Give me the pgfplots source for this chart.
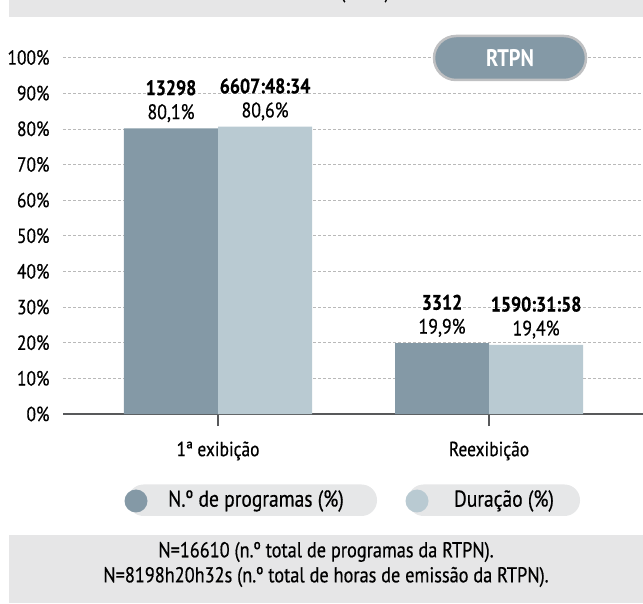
\documentclass[border=0pt]{standalone}
\usepackage{fontspec}
\setmainfont{PT Sans}[FakeStretch=0.85]
\newfontfamily\medfont{PT Sans}[FakeStretch=0.85,FakeBold=0.5]
\usepackage{pgfplots}
\pgfplotsset{compat=1.18}
\definecolor{darkbar}{HTML}{8499A6}
\definecolor{lightbar}{HTML}{B9CAD2}
\definecolor{band}{HTML}{E6E6E7}
\definecolor{pill}{HTML}{E6E7E8}
\definecolor{axisgray}{HTML}{58595B}
\definecolor{textgray}{HTML}{231F20}
\definecolor{boxborder}{HTML}{BFC0C2}
\begin{document}
\begin{tikzpicture}[x=1pt,y=1pt,font=\color{textgray}]
\useasboundingbox (0,0) rectangle (643,603);
% top band
\fill[band] (9,586) rectangle (643,603);
\begin{scope}
\clip (9,586) rectangle (643,603);
\node[font=\fontsize{20}{24}\selectfont\medfont, anchor=base] at (365,605) {(RTPN)};
\end{scope}
% bottom band
\fill[band] (9,0) rectangle (643,68);
\node[font=\fontsize{21.5}{25}\selectfont\medfont] at (326,51) {N=16610 (n.º total de programas da RTPN).};
\node[font=\fontsize{21.5}{25}\selectfont\medfont] at (326,26) {N=8198h20h32s (n.º total de horas de emissão da RTPN).};

\begin{axis}[
  at={(63pt,189pt)}, anchor=south west,
  scale only axis, width=580pt, height=356.5pt,
  xmin=-0.572, xmax=1.568, ymin=0, ymax=100,
  clip=false,
  axis x line=bottom, axis y line=left,
  x axis line style={-, draw=axisgray, line width=1.2pt},
  y axis line style={draw=none},
  xtick={0,1}, xticklabels={1ª exibição, Reexibição},
  xtick align=outside,
  xtick style={draw=axisgray, line width=1.2pt},
  major tick length=12pt,
  ytick={0,10,...,100},
  ytick style={draw=none},
  ymajorgrids,
  grid style={densely dashed, draw=gray!55, line width=0.5pt},
  yticklabel={\pgfmathprintnumber{\tick}\%},
  /pgf/number format/assume math mode=true,
  yticklabel style={font=\fontsize{20.5}{22}\selectfont\medfont, xshift=-4pt},
  xticklabel style={font=\fontsize{20.5}{22}\selectfont\medfont, yshift=-12pt},
  point meta=explicit symbolic,
  nodes near coords={\pgfplotspointmeta},
  every node near coord/.append style={font=\fontsize{21}{24}\selectfont\medfont, align=center, anchor=south, inner sep=0pt, yshift=6pt},
]
\addplot[ybar, bar width=0.347, bar shift=0pt, fill=darkbar, draw=none]
  coordinates {(-0.1735,80.1) [{\textbf{13298}\\80,1\%}] (0.8265,19.9) [{\textbf{3312}\\19,9\%}]};
\addplot[ybar, bar width=0.347, bar shift=0pt, fill=lightbar, draw=none]
  coordinates {(0.1735,80.6) [{\textbf{6607:48:34}\\80,6\%}] (1.1735,19.4) [{\textbf{1590:31:58}\\19,4\%}]};
\end{axis}

% RTPN box
\node[draw=boxborder, line width=2.5pt, fill=darkbar, rounded corners=22pt,
  minimum width=152pt, minimum height=44pt, inner sep=0pt,
  font=\fontsize{24}{26}\selectfont\bfseries, text=white] at (510,545) {RTPN};

% legend
\fill[pill, rounded corners=15.5pt] (128,87) rectangle (377,118.5);
\fill[darkbar] (136,102) circle (11.5);
\node[font=\fontsize{23}{26}\selectfont\medfont] at (256,102) {N.º de programas (\%)};
\fill[pill, rounded corners=15.5pt] (408,87) rectangle (580,118.5);
\fill[lightbar] (417,102) circle (11.5);
\node[font=\fontsize{23}{26}\selectfont\medfont] at (504,102) {Duração (\%)};
\end{tikzpicture}
\end{document}
